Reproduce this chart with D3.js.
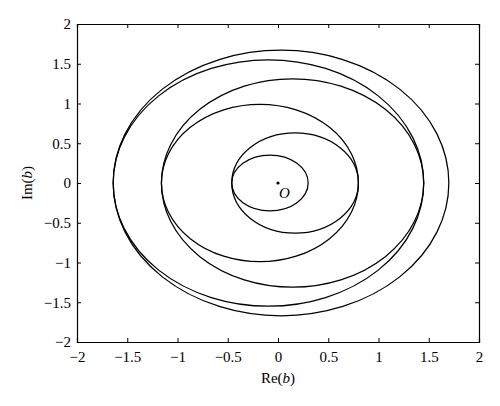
<!DOCTYPE html>
<html>
<head>
<meta charset="utf-8">
<script src="https://cdn.jsdelivr.net/npm/d3@7"></script>
<style>
  html, body { margin: 0; padding: 0; background: #fff; }
  svg { display: block; }
  text { font-family: "Liberation Serif", "DejaVu Serif", serif; fill: #000; }
</style>
</head>
<body>
<svg id="chart" width="500" height="406"></svg>
<script>
// Each closed curve: where it crosses the real axis (left, right) and its height above it.
const circleLeft  = [-0.46, -0.46, -1.16, -1.16, -1.64, -1.64];
const circleRight = [ 0.30,  0.80,  0.80,  1.45,  1.45,  1.70];
const circleTop   = [ 0.35,  0.63,  0.99,  1.31,  1.55,  1.67];
const originPoint = [0, 0];
const xTicks = [-2, -1.5, -1, -0.5, 0, 0.5, 1, 1.5, 2];
const yTicks = [-2, -1.5, -1, -0.5, 0, 0.5, 1, 1.5, 2];
const xDomain = [-2, 2];
const yDomain = [-2, 2];

const svg = d3.select("#chart");
const m = { left: 77, right: 479, top: 24, bottom: 342 };
const x = d3.scaleLinear().domain(xDomain).range([m.left, m.right]);
const y = d3.scaleLinear().domain(yDomain).range([m.bottom, m.top]);
const fmt = v => (v < 0 ? "\u2212" : "") + Math.abs(v);
const tickLen = 4;

// Curves
const curves = circleLeft.map((l, i) => ({ l, r: circleRight[i], h: circleTop[i] }));
svg.append("g").selectAll("ellipse").data(curves).join("ellipse")
  .attr("cx", d => x((d.l + d.r) / 2))
  .attr("cy", y(0))
  .attr("rx", d => x(d.r) - x((d.l + d.r) / 2))
  .attr("ry", d => y(0) - y(d.h))
  .attr("fill", "none")
  .attr("stroke", "#000")
  .attr("stroke-width", 1.25);

// Axes (ticks inward, on all four sides)
const gB = svg.append("g").attr("transform", `translate(0,${m.bottom})`)
  .call(d3.axisBottom(x).tickValues(xTicks).tickSize(-tickLen).tickPadding(9).tickFormat(fmt));
const gT = svg.append("g").attr("transform", `translate(0,${m.top})`)
  .call(d3.axisTop(x).tickValues(xTicks).tickSize(-tickLen).tickFormat(""));
const gL = svg.append("g").attr("transform", `translate(${m.left},0)`)
  .call(d3.axisLeft(y).tickValues(yTicks).tickSize(-tickLen).tickPadding(6).tickFormat(fmt));
const gR = svg.append("g").attr("transform", `translate(${m.right},0)`)
  .call(d3.axisRight(y).tickValues(yTicks).tickSize(-tickLen).tickFormat(""));
[gB, gT, gL, gR].forEach(g => {
  g.select(".domain").attr("stroke", "#000").attr("stroke-width", 1.2);
  g.selectAll(".tick line").attr("stroke", "#000").attr("stroke-width", 1);
  g.selectAll(".tick text").attr("font-family", "Liberation Serif, DejaVu Serif, serif")
    .attr("font-size", 15).attr("fill", "#000");
});

// Origin
svg.append("circle").attr("cx", x(originPoint[0])).attr("cy", y(originPoint[1]))
  .attr("r", 1.6).attr("fill", "#000");
svg.append("text").attr("x", x(originPoint[0]) + 1).attr("y", y(originPoint[1]) + 15)
  .attr("font-size", 15).attr("font-style", "italic").text("O");

// Axis titles
const xt = svg.append("text").attr("x", x(0)).attr("y", 383)
  .attr("text-anchor", "middle").attr("font-size", 15);
xt.append("tspan").text("Re(");
xt.append("tspan").attr("font-style", "italic").text("b");
xt.append("tspan").text(")");

const yt = svg.append("text").attr("transform", `translate(32,${y(0)}) rotate(-90)`)
  .attr("text-anchor", "middle").attr("font-size", 15);
yt.append("tspan").text("Im(");
yt.append("tspan").attr("font-style", "italic").text("b");
yt.append("tspan").text(")");
</script>
</body>
</html>
